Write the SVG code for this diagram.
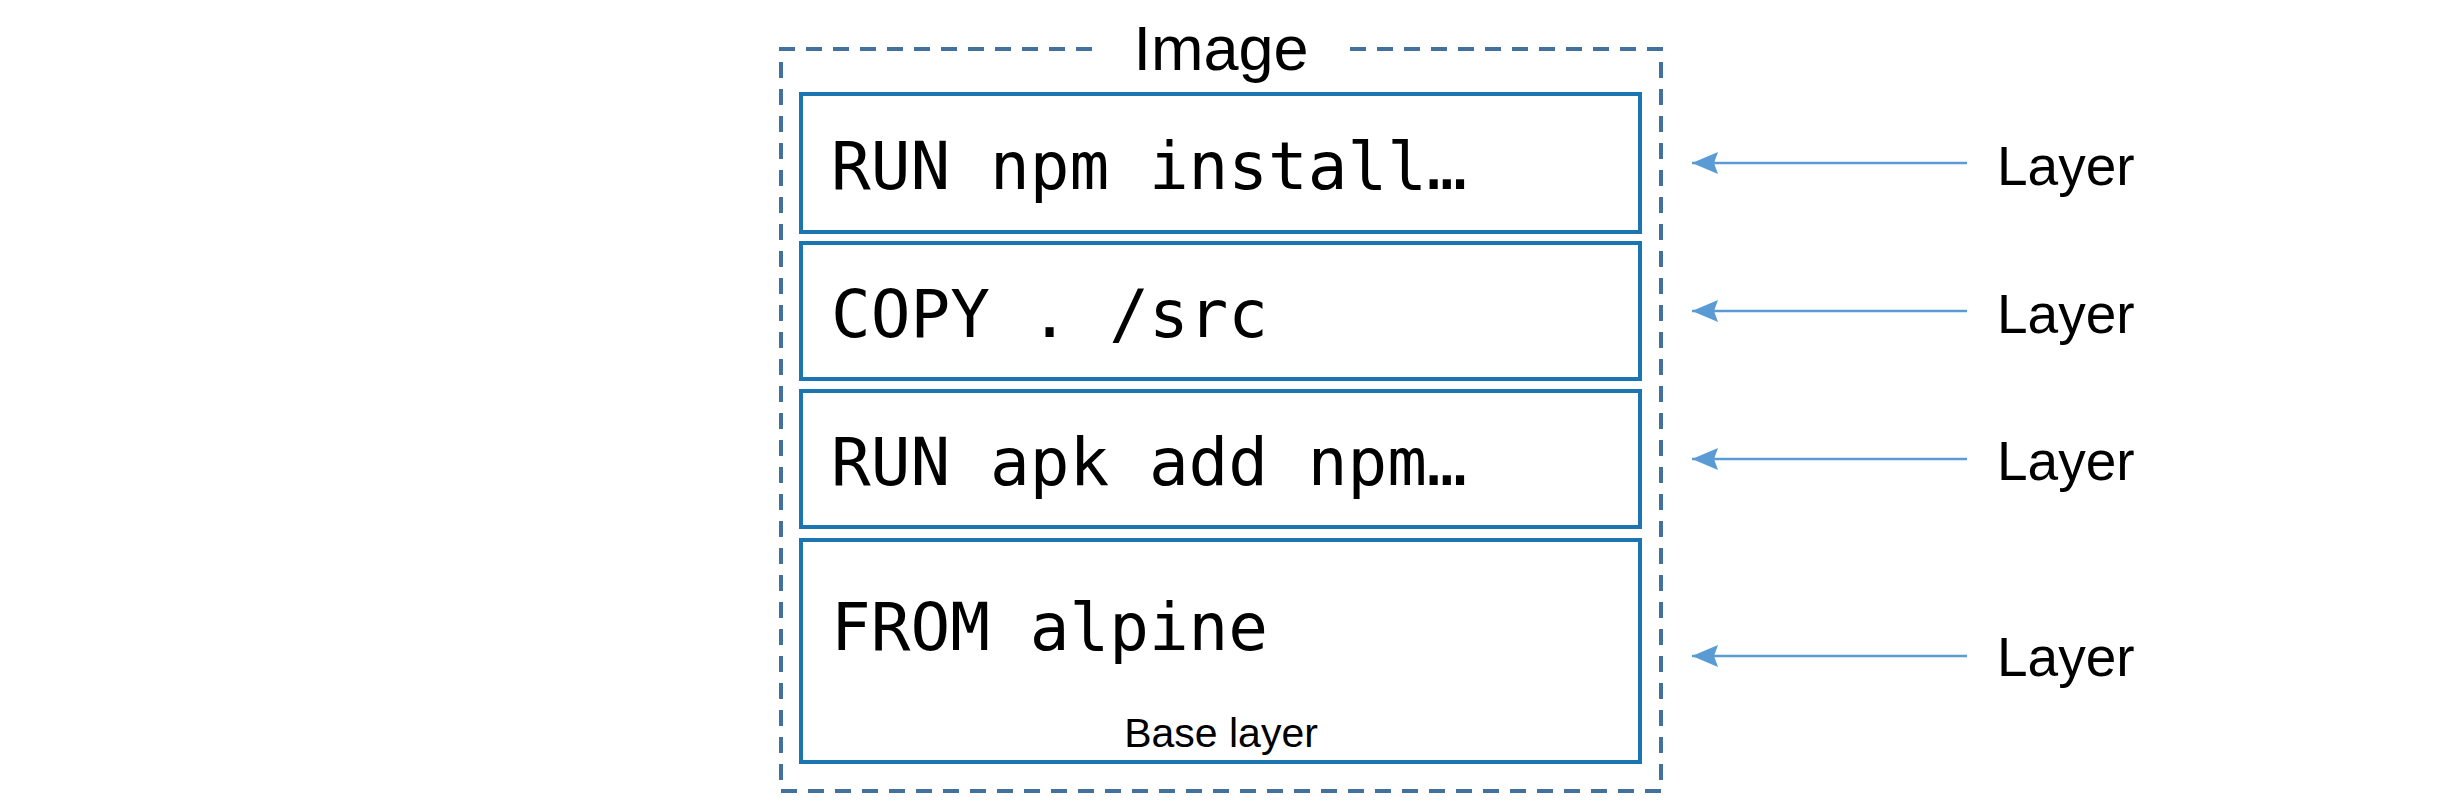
<svg xmlns="http://www.w3.org/2000/svg" width="2454" height="806" viewBox="0 0 2454 806">
<style>
.box{fill:#fff;stroke:#1B75B1;stroke-width:4}
.outer{fill:none;stroke:#41719C;stroke-width:4;stroke-dasharray:16 11}
.mono{font-family:"DejaVu Sans Mono","Liberation Mono",monospace;font-size:66px;fill:#000}
.sans{font-family:"Liberation Sans",Arial,sans-serif;fill:#000}
.conn{stroke:#5B9BD5;stroke-width:2.5;fill:none;marker-end:url(#ah)}
</style>
<defs>
<marker id="ah" markerUnits="userSpaceOnUse" markerWidth="28" markerHeight="26" refX="26" refY="13" orient="auto">
<path d="M0,2 L26,13 L0,24 L4,13 Z" fill="#5B9BD5"/>
</marker>
</defs>
<rect width="2454" height="806" fill="#fff"/>
<g id="image">
<path class="outer" d="M1092,49 H781 V791 H1661 V49 H1349"/>
<text class="sans" x="1221" y="70" font-size="63" text-anchor="middle">Image</text>
</g>
<g id="layer-run-npm">
<rect class="box" x="801" y="94" width="839" height="138"/>
<text class="mono" x="831" y="189">RUN npm install…</text>
</g>
<g id="layer-copy">
<rect class="box" x="801" y="243" width="839" height="136"/>
<text class="mono" x="831" y="337">COPY . /src</text>
</g>
<g id="layer-run-apk">
<rect class="box" x="801" y="391" width="839" height="136"/>
<text class="mono" x="831" y="485">RUN apk add npm…</text>
</g>
<g id="layer-from">
<rect class="box" x="801" y="540" width="839" height="222"/>
<text class="mono" x="831" y="650">FROM alpine</text>
<text class="sans" x="1221" y="747" font-size="41" text-anchor="middle">Base layer</text>
</g>
<g id="labels">
<text class="sans" x="1997" y="185" font-size="55">Layer</text>
<text class="sans" x="1997" y="333" font-size="55">Layer</text>
<text class="sans" x="1997" y="480" font-size="55">Layer</text>
<text class="sans" x="1997" y="676" font-size="55">Layer</text>
</g>
<g id="connectors">
<line class="conn" x1="1967" y1="163" x2="1692" y2="163"/>
<line class="conn" x1="1967" y1="311" x2="1692" y2="311"/>
<line class="conn" x1="1967" y1="459" x2="1692" y2="459"/>
<line class="conn" x1="1967" y1="656" x2="1692" y2="656"/>
</g>
</svg>
